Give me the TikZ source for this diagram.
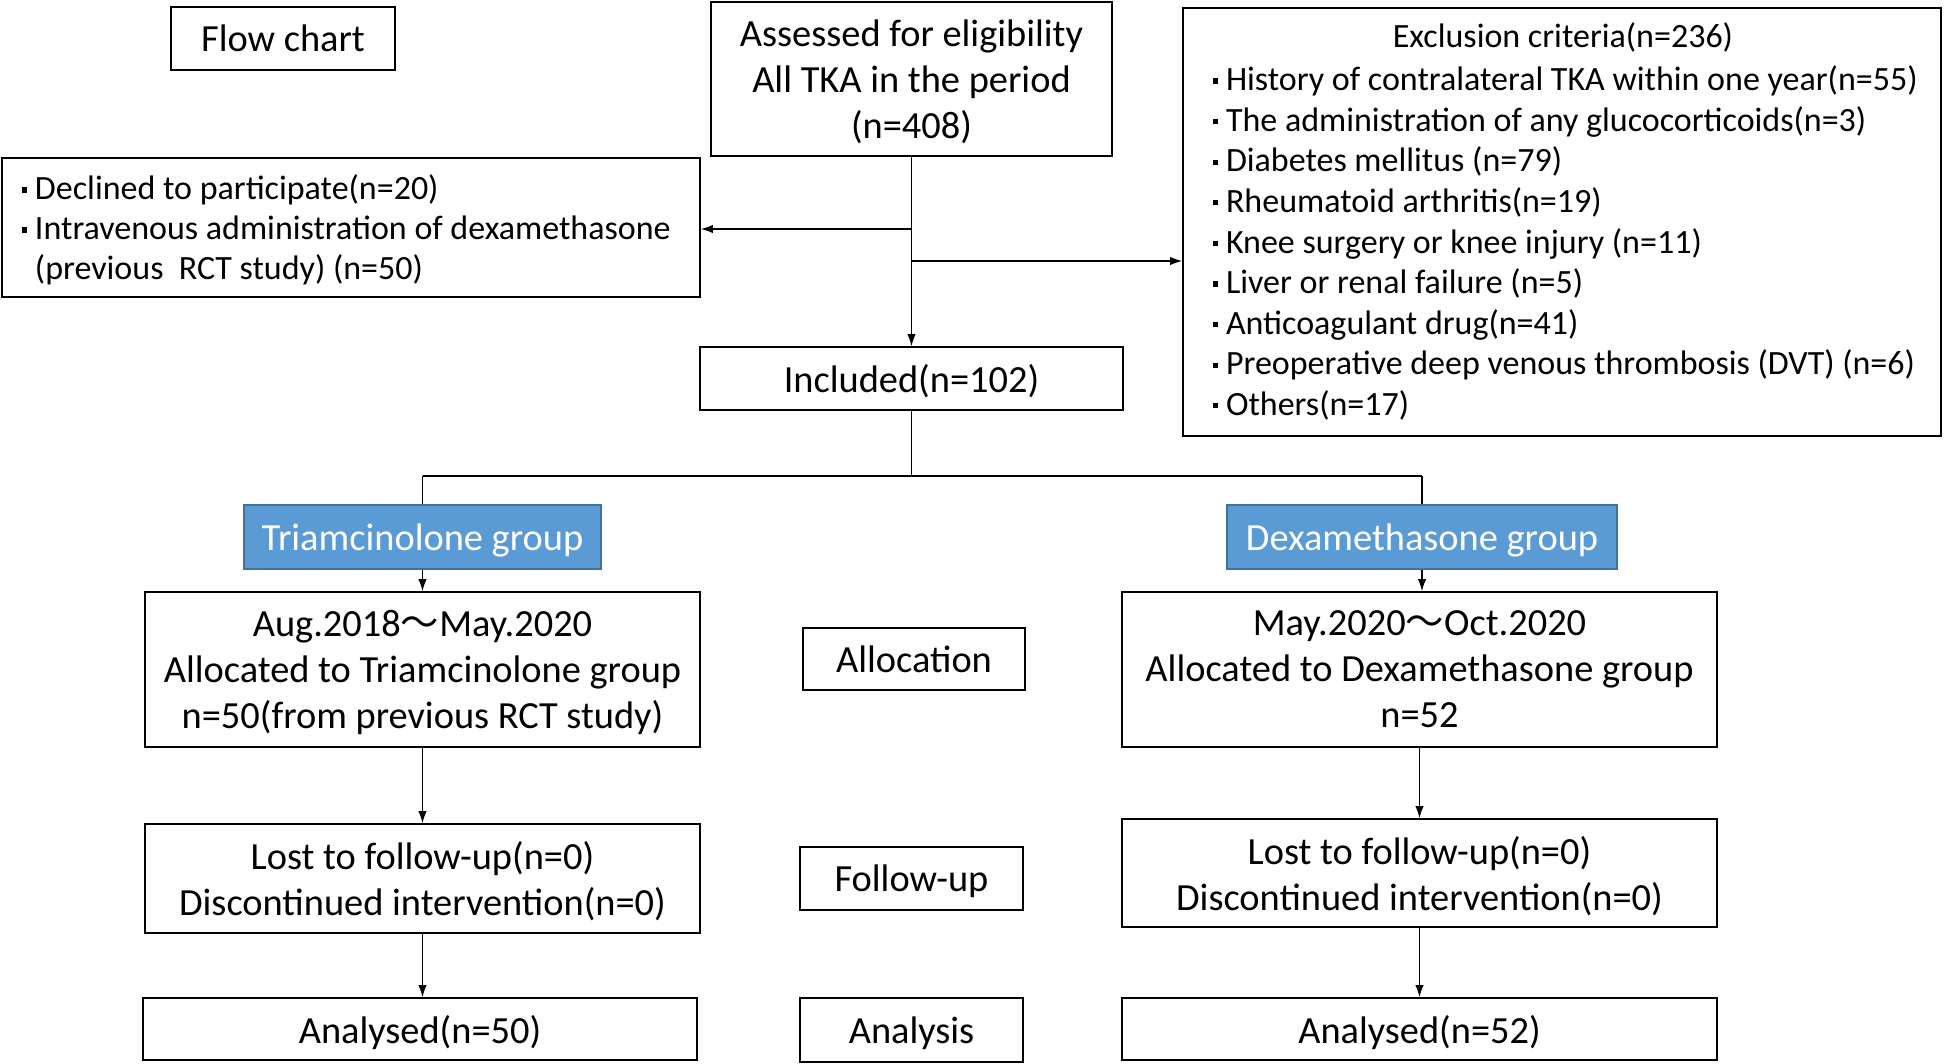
\documentclass[tikz,border=0pt]{standalone}
\usepackage{fontspec}
\setmainfont{Carlito}
\newfontfamily\cjk{Noto Sans CJK JP}
\usetikzlibrary{arrows.meta}
\definecolor{grpblue}{HTML}{5B9BD5}
\definecolor{grpedge}{HTML}{41719C}
\newcommand{\bul}{\makebox[0.40em][l]{\hspace{0.02em}\rule[0.21em]{0.15em}{0.15em}}}
\newcommand{\wave}{{\cjk\smash{～}}}
\begin{document}
\begin{tikzpicture}[x=0.5pt,y=-0.5pt,
  box/.style={draw, line width=0.9pt, inner sep=0pt, align=center, text depth=0pt, font=\fontsize{19.2}{23}\selectfont},
  grp/.style={box, fill=grpblue, draw=grpedge, text=white},
  txt/.style={inner sep=0pt, align=left, font=\fontsize{17}{20.3}\selectfont},
  arr/.style={-{Latex[length=6pt,width=4.2pt]}, line width=0.6pt},
  ln/.style={line width=0.6pt}]
\fill[white] (0,0) rectangle (1944,1064);
\path[use as bounding box] (0,0) rectangle (1944,1064);

\node[box, minimum width=112pt, minimum height=31.5pt] (flow) at (283,38.5) {Flow chart};
\node[box, minimum width=200.5pt, minimum height=77pt] (assess) at (911.5,79) {Assessed for eligibility\\All TKA in the period\\(n=408)};

\node[box, minimum width=349pt, minimum height=69.5pt] (decl) at (351,227.5) {};
\node[txt, font=\fontsize{17}{20}\selectfont, anchor=west] (declt) at (21,230) {\bul Declined to participate(n=20)\\\bul Intravenous administration of dexamethasone\\\hphantom{\bul}(previous\ \ RCT study) (n=50)};

\node[box, minimum width=379pt, minimum height=214pt] (excl) at (1562,222) {};
\node[txt] (exclt) at (1563,37) {Exclusion criteria(n=236)};
\node[txt, anchor=west] (excll) at (1212,243) {\bul History of contralateral TKA within one year(n=55)\\
\bul The administration of any glucocorticoids(n=3)\\
\bul Diabetes mellitus (n=79)\\
\bul Rheumatoid arthritis(n=19)\\
\bul Knee surgery or knee injury (n=11)\\
\bul Liver or renal failure (n=5)\\
\bul Anticoagulant drug(n=41)\\
\bul Preoperative deep venous thrombosis (DVT) (n=6)\\
\bul Others(n=17)};

\node[box, minimum width=211.5pt, minimum height=31.5pt] (incl) at (911.5,378.5) {Included(n=102)};

\node[grp, minimum width=178.5pt, minimum height=32pt] (tri) at (422.5,537) {Triamcinolone group};
\node[grp, minimum width=195pt, minimum height=32pt] (dex) at (1422,537) {Dexamethasone group};

\node[box, minimum width=277.5pt, minimum height=77.5pt] (allocL) at (422.5,669.5) {Aug.2018\wave May.2020\\Allocated to Triamcinolone group\\n=50(from previous RCT study)};
\node[box, minimum width=297.5pt, minimum height=77.5pt] (allocR) at (1419.5,669.5) {May.2020\wave Oct.2020\\Allocated to Dexamethasone group\\n=52};
\node[box, minimum width=111pt, minimum height=31pt] (alloc) at (914,659) {Allocation};

\node[box, minimum width=277.5pt, minimum height=54.5pt] (fuL) at (422.5,878.5) {Lost to follow-up(n=0)\\Discontinued intervention(n=0)};
\node[box, minimum width=297.5pt, minimum height=54pt] (fuR) at (1419.5,873) {Lost to follow-up(n=0)\\Discontinued intervention(n=0)};
\node[box, minimum width=111.5pt, minimum height=31.5pt] (fu) at (911.5,878.5) {Follow-up};

\node[box, minimum width=277pt, minimum height=31pt] (anL) at (420,1029) {Analysed(n=50)};
\node[box, minimum width=297.5pt, minimum height=31pt] (anR) at (1419.5,1029) {Analysed(n=52)};
\node[box, minimum width=111.5pt, minimum height=32pt] (an) at (911.5,1030) {Analysis};

% connectors
\draw[arr] (assess.south) -- (incl.north);
\coordinate (jl) at (911.5,229);
\coordinate (jr) at (911.5,261);
\draw[arr] (jl) -- (jl -| decl.east);
\draw[arr] (jr) -- (jr -| excl.west);
\coordinate (bar) at (911.5,476);
\coordinate (barL) at (tri.north |- bar);
\coordinate (barR) at (dex.north |- bar);
\draw[ln] (incl.south) -- (bar);
\draw[ln] (barL) -- (barR);
\draw[ln] (barL) -- (tri.north);
\draw[ln] (barR) -- (dex.north);
\draw[arr] (tri.south) -- (tri.south |- allocL.north);
\draw[arr] (dex.south) -- (dex.south |- allocR.north);
\draw[arr] (allocL.south) -- (allocL.south |- fuL.north);
\draw[arr] (allocR.south) -- (allocR.south |- fuR.north);
\draw[arr] (fuL.south) -- (fuL.south |- anL.north);
\draw[arr] (fuR.south) -- (fuR.south |- anR.north);
\end{tikzpicture}
\end{document}
